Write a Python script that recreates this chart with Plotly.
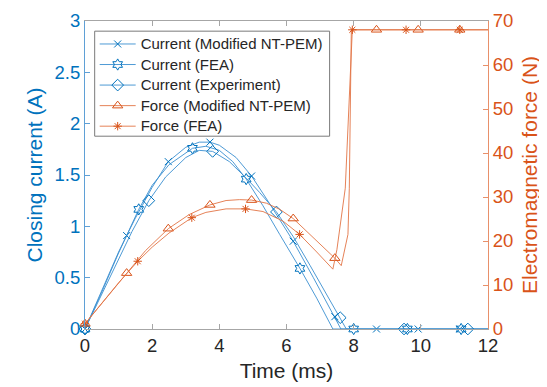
import plotly.graph_objects as go

# ---------------- data ----------------
# Current (Modified NT-PEM)
t_cur_mod = [0, 0.5, 1.0, 1.24, 1.5, 2.0, 2.48, 3.0, 3.4, 3.72, 4.0, 4.5, 4.96, 5.5, 6.0, 6.2,
             6.8, 7.2, 7.44, 7.62, 8.68, 9.92, 11.16, 12]
i_cur_mod = [0, 0.38, 0.75, 0.91, 1.08, 1.38, 1.63, 1.77, 1.82, 1.82, 1.79, 1.67, 1.49, 1.22, 0.95, 0.855,
             0.5, 0.26, 0.12, 0, 0, 0, 0, 0]
mk_cur_mod = [0, 3, 6, 9, 12, 15, 18, 20, 21, 22]

# Current (FEA)
t_cur_fea = [0, 0.5, 1.0, 1.6, 2.0, 2.5, 3.2, 3.6, 4.0, 4.4, 4.8, 5.3, 5.8, 6.4, 6.9, 7.38,
             8.0, 9.6, 11.2, 12]
i_cur_fea = [0, 0.36, 0.74, 1.165, 1.4, 1.6, 1.76, 1.78, 1.74, 1.63, 1.46, 1.2, 0.92, 0.59, 0.3, 0,
             0, 0, 0, 0]
mk_cur_fea = [0, 3, 6, 10, 13, 16, 17, 18]

# Current (Experiment)
t_cur_exp = [0, 0.5, 1.0, 1.4, 1.9, 2.4, 3.0, 3.4, 3.8, 4.3, 4.8, 5.2, 5.7, 6.2, 6.7, 7.2,
             7.6, 7.78, 9.5, 11.4, 12]
i_cur_exp = [0, 0.34, 0.68, 0.95, 1.25, 1.48, 1.67, 1.74, 1.73, 1.63, 1.47, 1.33, 1.14, 0.9, 0.62, 0.33,
             0.11, 0, 0, 0, 0]
mk_cur_exp = [0, 4, 8, 12, 16, 18, 19]

# Force (Modified NT-PEM)
t_frc_mod = [0, 0.5, 1.24, 1.8, 2.48, 3.1, 3.72, 4.2, 4.6, 4.96, 5.4, 5.8, 6.2, 6.8, 7.44,
             7.63, 7.83, 7.87, 7.93, 8.68, 9.92, 11.16, 12]
f_frc_mod = [1.2, 5.8, 12.7, 17.8, 22.8, 26.0, 28.2, 29.2, 29.4, 29.3, 28.6, 27.2, 25.1, 20.8, 16.1,
             14.4, 21.5, 32, 68, 68, 68, 68, 68]
mk_frc_mod = [0, 2, 4, 6, 9, 12, 14, 19, 20, 21]

# Force (FEA)
t_frc_fea = [0, 0.5, 1.0, 1.57, 2.0, 2.5, 3.18, 3.6, 4.2, 4.78, 5.3, 5.9, 6.39, 6.9, 7.38,
             7.5, 7.75, 7.96, 9.56, 11.16, 12]
f_frc_fea = [1.2, 5.8, 10.5, 15.4, 18.6, 21.8, 25.3, 26.5, 27.3, 27.3, 26.7, 24.5, 21.5, 17.5, 13.6,
             18, 32, 68, 68, 68, 68]
mk_frc_fea = [0, 3, 6, 9, 12, 17, 18, 19]

x_ticks = [0, 2, 4, 6, 8, 10, 12]
y1_ticks = [0, 0.5, 1, 1.5, 2, 2.5, 3]
y1_labels = ["0", "0.5", "1", "1.5", "2", "2.5", "3"]
y2_ticks = [0, 10, 20, 30, 40, 50, 60, 70]

series = [
    ("Current (Modified NT-PEM)", t_cur_mod, i_cur_mod, mk_cur_mod, "y", "x-thin-open", 7),
    ("Current (FEA)", t_cur_fea, i_cur_fea, mk_cur_fea, "y", "hexagram-open", 8.5),
    ("Current (Experiment)", t_cur_exp, i_cur_exp, mk_cur_exp, "y", "diamond-open", 9),
    ("Force (Modified NT-PEM)", t_frc_mod, f_frc_mod, mk_frc_mod, "y2", "triangle-up-open", 9),
    ("Force (FEA)", t_frc_fea, f_frc_fea, mk_frc_fea, "y2", "asterisk-open", 7),
]

BLUE = "#0072BD"
ORANGE = "#D95319"
BLUE_L = "#3a8fd0"
ORANGE_L = "#e27445"
FONT = "Liberation Sans, Arial, Helvetica, sans-serif"

fig = go.Figure()
for name, t, v, mk, ax, sym, sz in series:
    col = BLUE if ax == "y" else ORANGE
    lcol = BLUE_L if ax == "y" else ORANGE_L
    fig.add_trace(go.Scatter(x=t, y=v, yaxis=ax, mode="lines",
                             line=dict(color=lcol, width=0.9), showlegend=False,
                             hoverinfo="skip", cliponaxis=False))
    fig.add_trace(go.Scatter(x=[t[i] for i in mk], y=[v[i] for i in mk], yaxis=ax,
                             mode="markers", showlegend=False, cliponaxis=False,
                             marker=dict(symbol=sym, size=sz, color=col,
                                         line=dict(color=col, width=1))))
    fig.add_trace(go.Scatter(x=[None], y=[None], yaxis=ax,
                             name='<span style="font-size:15px">' + name + '</span>',
                             mode="lines+markers", line=dict(color=lcol, width=0.9),
                             marker=dict(symbol=sym, size=sz, color=col,
                                         line=dict(color=col, width=1))))

# legend frame (drawn as a paper-referenced rectangle)
fig.add_shape(type="rect", xref="paper", yref="paper", x0=0.024, x1=0.607, y0=0.626, y1=0.967,
              line=dict(color="#7a7a7a", width=1), fillcolor="white", layer="below")

fig.update_layout(
    template="none",
    width=547, height=387,
    margin=dict(l=77, r=67, t=13, b=66, pad=0),
    paper_bgcolor="white", plot_bgcolor="white",
    font=dict(family=FONT, size=18, color="#262626"),
    showlegend=True,
    legend=dict(x=0.024, y=0.975, xanchor="left", yanchor="top",
                bgcolor="rgba(255,255,255,0)", borderwidth=0,
                font=dict(size=13.5, color="#262626"), tracegroupgap=0, itemwidth=36),
    xaxis=dict(range=[0, 12], tickvals=x_ticks, showgrid=False, zeroline=False, automargin=False,
               showline=True, linecolor="#a6a6a6", linewidth=1, mirror="ticks",
               ticks="inside", ticklen=5, tickcolor="#a6a6a6",
               tickfont=dict(size=18.5, color="#262626"),
               title=dict(text="Time (ms)", font=dict(size=21, color="#262626"), standoff=8)),
    yaxis=dict(range=[0, 3], tickvals=y1_ticks, ticktext=y1_labels, showgrid=False, zeroline=False,
               automargin=False,
               showline=True, linecolor="#5fa0d6", linewidth=1,
               ticks="inside", ticklen=5, tickcolor="#5fa0d6",
               tickfont=dict(size=18.5, color=BLUE),
               title=dict(text="Closing current (A)", font=dict(size=21, color=BLUE), standoff=6)),
    yaxis2=dict(range=[0, 70], tickvals=y2_ticks, overlaying="y", side="right", showgrid=False,
                zeroline=False, showline=True, linecolor="#e8906a", linewidth=1, automargin=False,
                ticks="inside", ticklen=5, tickcolor="#e8906a",
                tickfont=dict(size=18.5, color=ORANGE),
                title=dict(text="Electromagnetic force (N)", font=dict(size=21, color=ORANGE), standoff=10)),
)

fig.write_html("out.html")
